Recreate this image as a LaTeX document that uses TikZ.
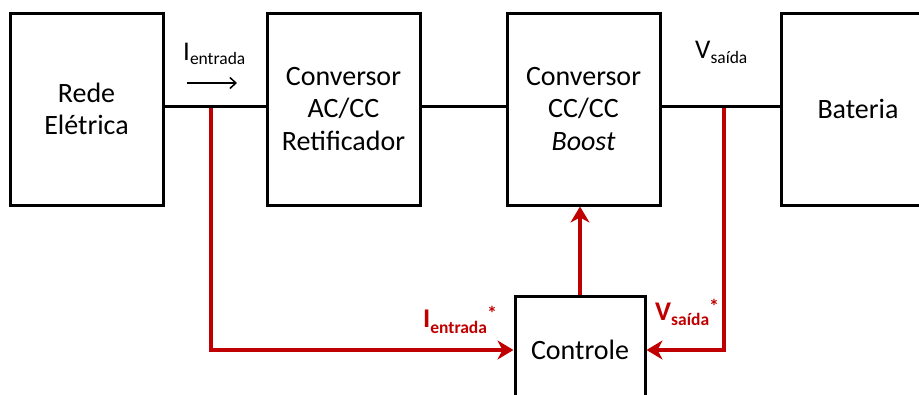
\documentclass[tikz,border=0pt]{standalone}
\usepackage{fontspec}
\setmainfont{Carlito}
\usetikzlibrary{arrows.meta}
\definecolor{ctrlred}{RGB}{192,0,0}
\begin{document}
\begin{tikzpicture}[x=1pt,y=-1pt,
  block/.style={draw, line width=3pt, inner sep=0pt, align=center,
    font=\fontsize{28}{32.5}\selectfont},
  bus/.style={line width=3pt},
  feedback/.style={draw=ctrlred, line width=4pt,
    -{Stealth[length=16pt,width=19pt,inset=5pt]}},
  sig/.style={inner sep=0pt, anchor=base west, font=\fontsize{27}{27}\selectfont},
  sigred/.style={sig, text=ctrlred, font=\bfseries\fontsize{27}{27}\selectfont}
]
\useasboundingbox (0,0) rectangle (919,394);
\clip (0,0) rectangle (919,394);

% main power path blocks
\node[block, minimum width=153pt, minimum height=192pt] (rede) at (86.5,109) {Rede\\Elétrica};
\node[block, minimum width=153pt, minimum height=192pt] (acdc) at (343.5,109) {Conversor\\AC/CC\\Retificador};
\node[block, minimum width=153pt, minimum height=192pt] (dcdc) at (583.5,109) {Conversor\\CC/CC\\\textit{Boost}};
\node[block, minimum width=160pt, minimum height=192pt] (bat) at (861,109) {\hspace*{-6pt}Bateria};
\node[block, minimum width=130pt, minimum height=108pt] (ctrl) at (580,350) {Controle};

% measurement taps on the bus
\coordinate (bus) at (0,106);
\coordinate (j1) at (211,106);
\coordinate (j2) at (724,106);

% feedback loops (drawn first so the bus lies on top)
\draw[feedback] (j1) |- (ctrl.west);
\draw[feedback] (j2) |- (ctrl.east);
\draw[feedback] (ctrl.north) -- (ctrl.north |- dcdc.south);

% power bus
\draw[bus] (rede.east |- bus) -- (acdc.west |- bus);
\draw[bus] (acdc.east |- bus) -- (dcdc.west |- bus);
\draw[bus] (dcdc.east |- bus) -- (bat.west |- bus);

% measured quantities
\node[sig] (iin) at (183,60) {I\raisebox{-4.5pt}{\fontsize{17.5}{17.5}\selectfont entrada}};
\coordinate (ia) at (187,83);
\coordinate (ib) at (237,83);
\draw[line width=1.5pt, -{Straight Barb[length=6pt,width=11pt]}] (ia) -- (ib);
\node[sig] (vout) at (695,58) {V\raisebox{-5pt}{\fontsize{17.5}{17.5}\selectfont saída}};

% references
\node[sigred] (iref) at (423,327) {I\raisebox{-6pt}{\fontsize{17.5}{17.5}\selectfont entrada}\raisebox{7pt}{\fontsize{20}{20}\selectfont *}};
\node[sigred] (vref) at (655,320) {V\raisebox{-5pt}{\fontsize{17.5}{17.5}\selectfont saída}\raisebox{7pt}{\fontsize{20}{20}\selectfont *}};
\end{tikzpicture}
\end{document}
